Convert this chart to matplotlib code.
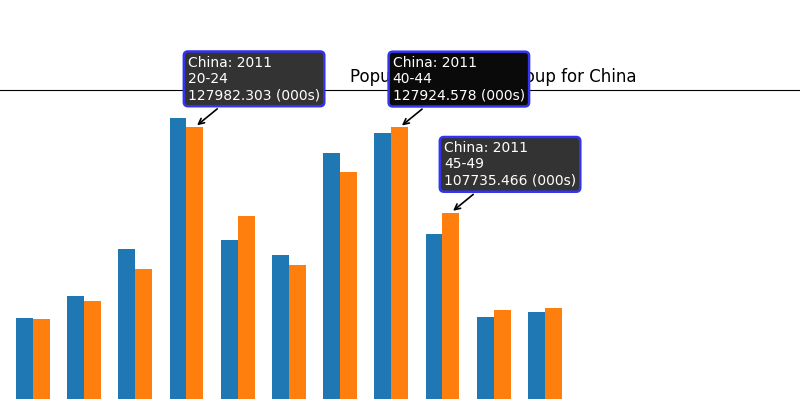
import numpy as np
import matplotlib
matplotlib.use('Agg')
import matplotlib.pyplot as plt

# Population by age group for China (thousands), visible part of the chart
age_groups = ['5-9', '10-14', '15-19', '20-24', '25-29', '30-34',
              '35-39', '40-44', '45-49', '50-54', '55-59']
pop_2010 = [82850, 88050, 99150, 130170, 101280, 97730,
            121900, 126550, 102760, 83090, 84100]
pop_2011 = [82610, 86700, 94430, 127982.303, 107020, 95440,
            117410, 127924.578, 107735.466, 84740, 85050]
years = ['2010', '2011']
country = 'China'
annotated = ['20-24', '40-44', '45-49']

fig = plt.figure(figsize=(8, 3.99), dpi=100)
# the axes reaches past the edges of the figure: only a window of it is shown
ax = fig.add_axes([-0.0175, -0.6734, 1.2675, 1.4471])

x = np.arange(len(age_groups))
w = 0.33
ax.bar(x - w / 2, pop_2010, w, color='#1f77b4', label=years[0])
bars = ax.bar(x + w / 2, pop_2011, w, color='#ff7f0e', label=years[1])

ax.set_xlim(-0.916, 18.889)
ax.set_ylim(0, max(pop_2010 + pop_2011) * 1.05)
# ticks sit outside the visible window anyway
ax.set_xticks([])
ax.set_yticks([])
ax.set_title('Population by Age Group for China', fontsize=12)

for grp in annotated:
    i = age_groups.index(grp)
    b = bars[i]
    # the 40-44 label was stacked twice in the original, so it looks darker
    fc = '#0a0a0a' if grp == '40-44' else '#333333'
    ax.annotate('%s: %s\n%s\n%.3f (000s)' % (country, years[1], grp, pop_2011[i]),
                xy=(b.get_x() + b.get_width() / 2, b.get_height()),
                xytext=(-5, 18), textcoords='offset points',
                ha='left', va='bottom', color='white', fontsize=10,
                bbox=dict(boxstyle='round,pad=0.3', fc=fc, ec='#3333f0', lw=1.8),
                arrowprops=dict(arrowstyle='->', color='black', lw=1.2),
                zorder=5)

fig.savefig('out.png', dpi=100)
